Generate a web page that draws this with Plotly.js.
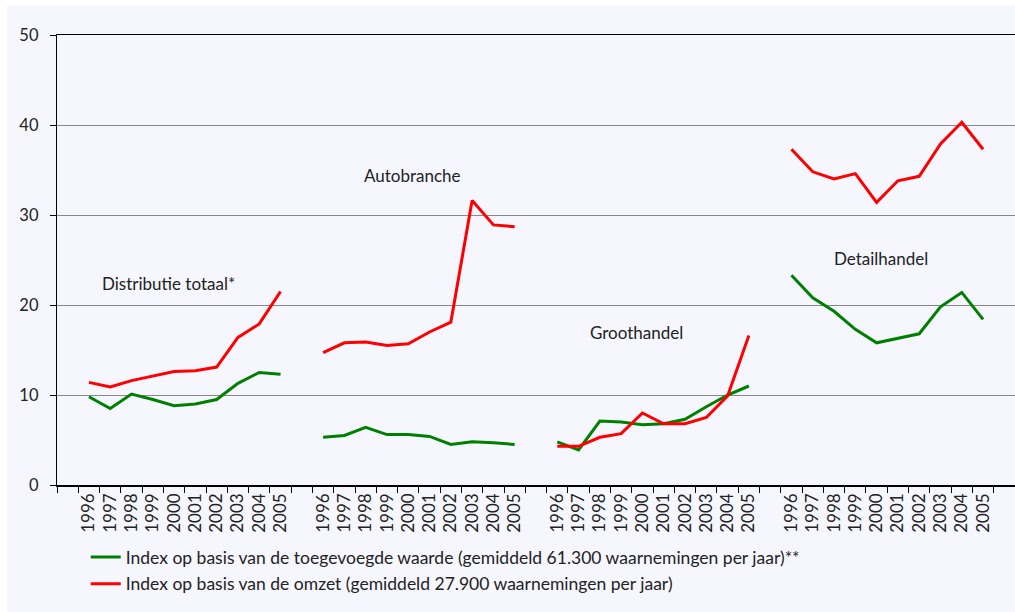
<!DOCTYPE html>
<html>
<head>
<meta charset="utf-8">
<script src="https://cdn.plot.ly/plotly-3.0.1.min.js"></script>
<style>
  html, body { margin: 0; padding: 0; background: #ffffff; }
  #chart { width: 1015px; height: 612px; }
</style>
</head>
<body>
<div id="chart"></div>
<script>
var years = ['1996', '1997', '1998', '1999', '2000', '2001', '2002', '2003', '2004', '2005'];
var groups = ['Distributie totaal*', 'Autobranche', 'Groothandel', 'Detailhandel'];

// toegevoegde waarde (groen)
var greenDistributie = [9.8, 8.5, 10.1, 9.5, 8.8, 9.0, 9.5, 11.3, 12.5, 12.3];
var greenAuto = [5.3, 5.5, 6.4, 5.6, 5.6, 5.4, 4.5, 4.8, 4.7, 4.5];
var greenGroot = [4.8, 3.9, 7.1, 7.0, 6.7, 6.8, 7.3, 8.7, 10.0, 11.0];
var greenDetail = [23.3, 20.8, 19.3, 17.3, 15.8, 16.3, 16.8, 19.8, 21.4, 18.4];

// omzet (rood)
var redDistributie = [11.4, 10.9, 11.6, 12.1, 12.6, 12.7, 13.1, 16.4, 17.9, 21.5];
var redAuto = [14.7, 15.8, 15.9, 15.5, 15.7, 17.0, 18.1, 31.6, 28.9, 28.7];
var redGroot = [4.3, 4.3, 5.3, 5.7, 8.0, 6.8, 6.8, 7.5, 9.9, 16.6];
var redDetail = [37.3, 34.8, 34.0, 34.6, 31.4, 33.8, 34.3, 37.9, 40.3, 37.3];

// each group takes 10 slots, one empty slot before every group
function build(series) {
  var x = [], y = [];
  series.forEach(function (vals, g) {
    vals.forEach(function (v, k) {
      x.push(1 + g * 11 + k);
      y.push(v);
    });
    x.push(11 + g * 11);
    y.push(null);
  });
  return {x: x, y: y};
}

var green = build([greenDistributie, greenAuto, greenGroot, greenDetail]);
var red = build([redDistributie, redAuto, redGroot, redDetail]);

var tickvals = [], ticktext = [];
for (var g = 0; g < 4; g++) {
  years.forEach(function (yr, k) {
    tickvals.push(1 + g * 11 + k);
    ticktext.push(yr);
  });
}
var bounds = [];
for (var b = 0; b <= 44; b++) bounds.push(b - 0.5);

var trace1 = {
  x: green.x, y: green.y, legendgroup: 'a',
  name: 'Index op basis van de toegevoegde waarde (gemiddeld 61.300 waarnemingen per jaar)**',
  type: 'scatter', mode: 'lines', connectgaps: false,
  line: {color: '#008000', width: 3}
};
var trace2 = {
  x: red.x, y: red.y, legendgroup: 'b',
  name: 'Index op basis van de omzet (gemiddeld 27.900 waarnemingen per jaar)',
  type: 'scatter', mode: 'lines', connectgaps: false,
  line: {color: '#ff0000', width: 3}
};

var labelPos = [[4.76, 22.4], [16.2, 34.4], [26.7, 17.0], [38.2, 25.2]];
var annotations = groups.map(function (name, i) {
  return {
    x: labelPos[i][0], y: labelPos[i][1], xref: 'x', yref: 'y',
    text: name, showarrow: false,
    font: {family: 'Lato, sans-serif', size: 17, color: '#222'}
  };
});

var layout = {
  width: 1015, height: 612,
  margin: {t: 35, b: 127, l: 57, r: 0},
  paper_bgcolor: '#F6F7FE', plot_bgcolor: '#F6F7FE',
  font: {family: 'Lato, sans-serif', size: 15, color: '#222'},
  showlegend: true,
  legend: {
    x: 0.03, y: -0.12, xanchor: 'left', yanchor: 'top',
    bgcolor: 'rgba(0,0,0,0)', font: {size: 17.5, color: '#222'},
    tracegroupgap: 1
  },
  xaxis: {
    range: [-0.5, 44.5], tickmode: 'array', tickvals: tickvals, ticktext: ticktext,
    tickangle: -90, ticks: '', showgrid: false, zeroline: false,
    showline: true, linecolor: '#000', linewidth: 1.5, mirror: true,
    tickfont: {size: 17, color: '#222'},
    minor: {tickvals: bounds, ticks: 'outside', ticklen: 6, tickcolor: '#000', tickwidth: 1, showgrid: false}
  },
  yaxis: {
    range: [0, 50], tickvals: [0, 10, 20, 30, 40, 50], ticks: 'outside', ticklen: 6,
    tickcolor: '#000', showline: true, linecolor: '#000', linewidth: 1.2,
    showgrid: true, gridcolor: '#888', gridwidth: 1, zeroline: false,
    tickfont: {size: 16.5, color: '#222'}, ticklabelstandoff: 8
  },
  shapes: [
    {type: 'rect', xref: 'paper', yref: 'paper', x0: -0.07, x1: 1.05, y0: 1.066, y1: 1.09,
     fillcolor: '#ffffff', line: {width: 0}, layer: 'below'},
    {type: 'rect', xref: 'paper', yref: 'paper', x0: -0.07, x1: -0.052, y0: -0.3, y1: 1.09,
     fillcolor: '#ffffff', line: {width: 0}, layer: 'below'}
  ],
  annotations: annotations
};

var config = {displayModeBar: false, staticPlot: true};

Plotly.newPlot('chart', [trace1, trace2], layout, config);
</script>
</body>
</html>
